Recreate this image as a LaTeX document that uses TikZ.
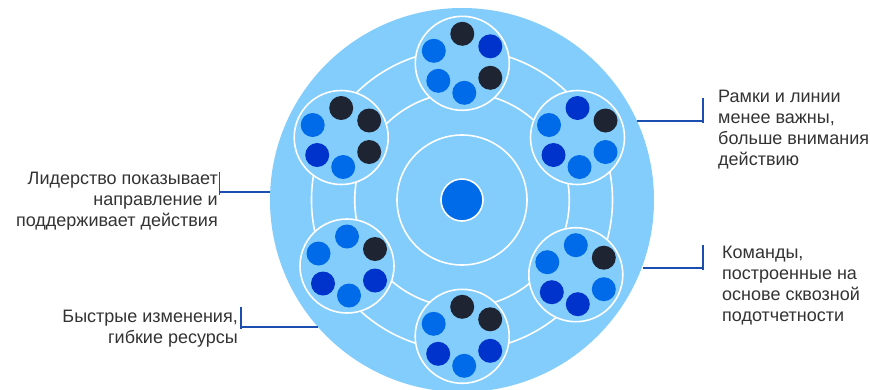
\documentclass[tikz,border=0pt]{standalone}
\usepackage{fontspec}
\setmainfont{Liberation Sans}
\definecolor{bgblue}{HTML}{82CDFC}
\definecolor{ltdot}{HTML}{006BE8}
\definecolor{dkblue}{HTML}{0033CC}
\definecolor{darkdot}{HTML}{1F2433}
\definecolor{conncol}{HTML}{1A4FB0}
\definecolor{txt}{HTML}{333333}
\tikzset{
  ring/.style={draw=white, line width=1.6pt},
  sat/.style={circle, fill=bgblue, draw=white, line width=1.6pt, minimum size=94pt, inner sep=0pt},
  conn/.style={draw=conncol, line width=1.6pt},
  lbl/.style={text=txt, font=\fontsize{18}{21}\selectfont, inner sep=0pt},
}
\newcommand{\dotset}[7]{%
  \foreach \c [count=\i] in {#2,#3,#4,#5,#6,#7}{%
    \ifcase\i\or
      \fill[\c] ($(#1)+(0,-29.5)$) circle (12);\or
      \fill[\c] ($(#1)+(28,-17)$) circle (12);\or
      \fill[\c] ($(#1)+(28,14.5)$) circle (12);\or
      \fill[\c] ($(#1)+(2,29.5)$) circle (12);\or
      \fill[\c] ($(#1)+(-24,17.5)$) circle (12);\or
      \fill[\c] ($(#1)+(-28.5,-12.5)$) circle (12);\fi
  }}
\usetikzlibrary{calc}
\begin{document}
\begin{tikzpicture}[x=1pt,y=-1pt]
\useasboundingbox (0,0) rectangle (870,389);
\clip (0,0) rectangle (870,389);
\fill[white] (0,0) rectangle (870,389);
% big circle
\node[circle, fill=bgblue, minimum size=384pt, inner sep=0pt] (big) at (462,200) {};
\draw[ring] (big.center) circle (150.5);
\draw[ring] (big.center) circle (107.3);
\draw[ring] (big.center) circle (65);
\node[circle, fill=ltdot, draw=white, line width=1.6pt, minimum size=42pt, inner sep=0pt] (core) at (big.center) {};
% satellites
\node[sat] (s1) at (462.3,63.3) {};
\node[sat] (s2) at (577.5,137.5) {};
\node[sat] (s3) at (575.8,274.7) {};
\node[sat] (s4) at (462.2,336.3) {};
\node[sat] (s5) at (347,266) {};
\node[sat] (s6) at (341.2,137.5) {};
\dotset{s1}{darkdot}{dkblue}{darkdot}{ltdot}{ltdot}{ltdot}
\dotset{s2}{dkblue}{darkdot}{ltdot}{ltdot}{dkblue}{ltdot}
\dotset{s3}{ltdot}{darkdot}{ltdot}{dkblue}{dkblue}{ltdot}
\dotset{s4}{darkdot}{darkdot}{dkblue}{ltdot}{dkblue}{ltdot}
\dotset{s5}{ltdot}{darkdot}{dkblue}{ltdot}{dkblue}{ltdot}
\dotset{s6}{darkdot}{darkdot}{darkdot}{ltdot}{dkblue}{ltdot}
% labels
\node[lbl, align=right, anchor=north east] (t1) at (218,172) {Лидерство показывает\\направление и\\поддерживает действия};
\node[lbl, align=right, anchor=north east] (t2) at (238,310) {Быстрые изменения,\\гибкие ресурсы};
\node[lbl, align=left, anchor=north west] (t3) at (718,90) {Рамки и линии\\менее важны,\\больше внимания\\действию};
\node[lbl, align=left, anchor=north west] (t4) at (722,246) {Команды,\\построенные на\\основе сквозной\\подотчетности};
% connectors
\coordinate (c1a) at (219.5,172); \coordinate (c1b) at (219.5,195);
\coordinate (c1m) at (219.5,192); \coordinate (c1e) at (269.5,192);
\draw[conn] (c1a) -- (c1b); \draw[conn] (c1m) -- (c1e);
\coordinate (c2a) at (241,307); \coordinate (c2b) at (241,329);
\coordinate (c2m) at (241,327); \coordinate (c2e) at (318,327);
\draw[conn] (c2a) -- (c2b); \draw[conn] (c2m) -- (c2e);
\coordinate (c3a) at (703,98); \coordinate (c3b) at (703,123);
\coordinate (c3m) at (703,121); \coordinate (c3e) at (637,121);
\draw[conn] (c3a) -- (c3b); \draw[conn] (c3m) -- (c3e);
\coordinate (c4a) at (703,245); \coordinate (c4b) at (703,270);
\coordinate (c4m) at (703,268); \coordinate (c4e) at (643,268);
\draw[conn] (c4a) -- (c4b); \draw[conn] (c4m) -- (c4e);
\end{tikzpicture}
\end{document}
